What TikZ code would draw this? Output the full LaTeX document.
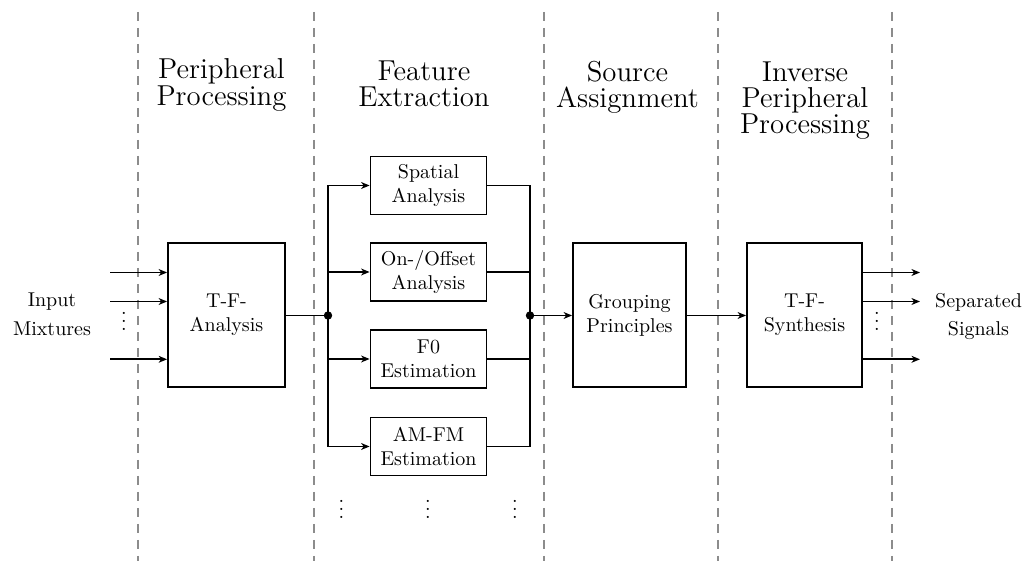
\documentclass[tikz,border=0pt]{standalone}
\usetikzlibrary{arrows.meta}
\begin{document}
\begin{tikzpicture}[x=0.5pt,y=-0.5pt,
  box/.style={draw,line width=0.9pt,inner sep=0pt,align=center,font=\fontsize{10}{12}\selectfont},
  fbox/.style={box,minimum width=58pt,minimum height=29pt},
  bigbox/.style={box,minimum height=72pt},
  wire/.style={line width=0.9pt,line cap=rect},
  arr/.style={line width=0.9pt,-{Stealth[length=4.2pt,width=3.4pt,inset=1.2pt]}},
  sep/.style={line width=0.6pt,black!45,dash pattern=on 4.4pt off 3.6pt},
  head/.style={align=center,inner sep=0pt,anchor=north,font=\fontsize{14.4}{13.2}\selectfont},
  lab/.style={align=center,inner sep=0pt,anchor=north},
  vd/.style={inner sep=0pt,anchor=south,font=\fontsize{10}{12}\selectfont}
]
\useasboundingbox (0,0) rectangle (1025,561);
% separators
\foreach \x in {138,314,544,718,892} \draw[sep] (\x,12) -- (\x,561);
% headings
\node[head] (h1) at (221.5,58.5) {Peripheral\\Processing};
\node[head] (h2) at (424,60.5) {Feature\\Extraction};
\node[head] (h3) at (627.5,60.4) {Source\\Assignment};
\node[head] (h4) at (805,61) {Inverse\\Peripheral\\Processing};
% boxes
\node[bigbox,minimum width=58.5pt] (tfa) at (226.5,315) {T-F-\\Analysis};
\node[fbox] (sp) at (428.5,185.5) {Spatial\\Analysis};
\node[fbox] (on) at (428.5,272) {On-/Offset\\Analysis};
\node[fbox] (f0) at (428.5,359) {F0\\Estimation};
\node[fbox] (am) at (428.5,446.5) {AM-FM\\Estimation};
\node[bigbox,minimum width=56.5pt] (grp) at (629.5,315) {Grouping\\Principles};
\node[bigbox,minimum width=57.5pt] (syn) at (804.5,315) {T-F-\\Synthesis};
% side labels
\node[lab,font=\fontsize{10}{14.5}\selectfont] (inp) at (52,292.7) {Input\\Mixtures};
\node[lab,font=\fontsize{10}{14}\selectfont] (outp) at (978.5,292.7) {Separated\\Signals};
% dots
\node[vd] (v1) at (124,330.5) {$\vdots$};
\node[vd] (v2) at (877,330.5) {$\vdots$};
\node[vd] (v3) at (341.5,518.5) {$\vdots$};
\node[vd] (v4) at (428,518.5) {$\vdots$};
\node[vd] (v5) at (515,518.5) {$\vdots$};
% coordinates
\coordinate (i1) at (110,272.5);
\coordinate (i2) at (110,301.5);
\coordinate (i3) at (110,359.3);
\coordinate (o1) at (920,272.5);
\coordinate (o2) at (920,301.5);
\coordinate (o3) at (920,359.3);
\coordinate (jl) at (328,315.5);
\coordinate (jr) at (530,315.5);
% connectors
\foreach \c in {i1,i2,i3} \draw[arr] (\c) -- (tfa.west |- \c);
\foreach \c in {o1,o2,o3} \draw[arr] (syn.east |- \c) -- (\c);
\draw[wire] (tfa.east |- jl) -- (jl);
\draw[wire] (jl |- sp.west) -- (jl |- am.west);
\draw[wire] (jr |- sp.east) -- (jr |- am.east);
\foreach \n in {sp,on,f0,am} {
  \draw[arr] (jl |- \n.west) -- (\n.west);
  \draw[wire] (\n.east) -- (jr |- \n.east);
}
\draw[arr] (jr) -- (grp.west |- jr);
\draw[arr] (grp.east |- jr) -- (syn.west |- jr);
\fill (jl) circle (2.1pt);
\fill (jr) circle (2.1pt);
\end{tikzpicture}
\end{document}
